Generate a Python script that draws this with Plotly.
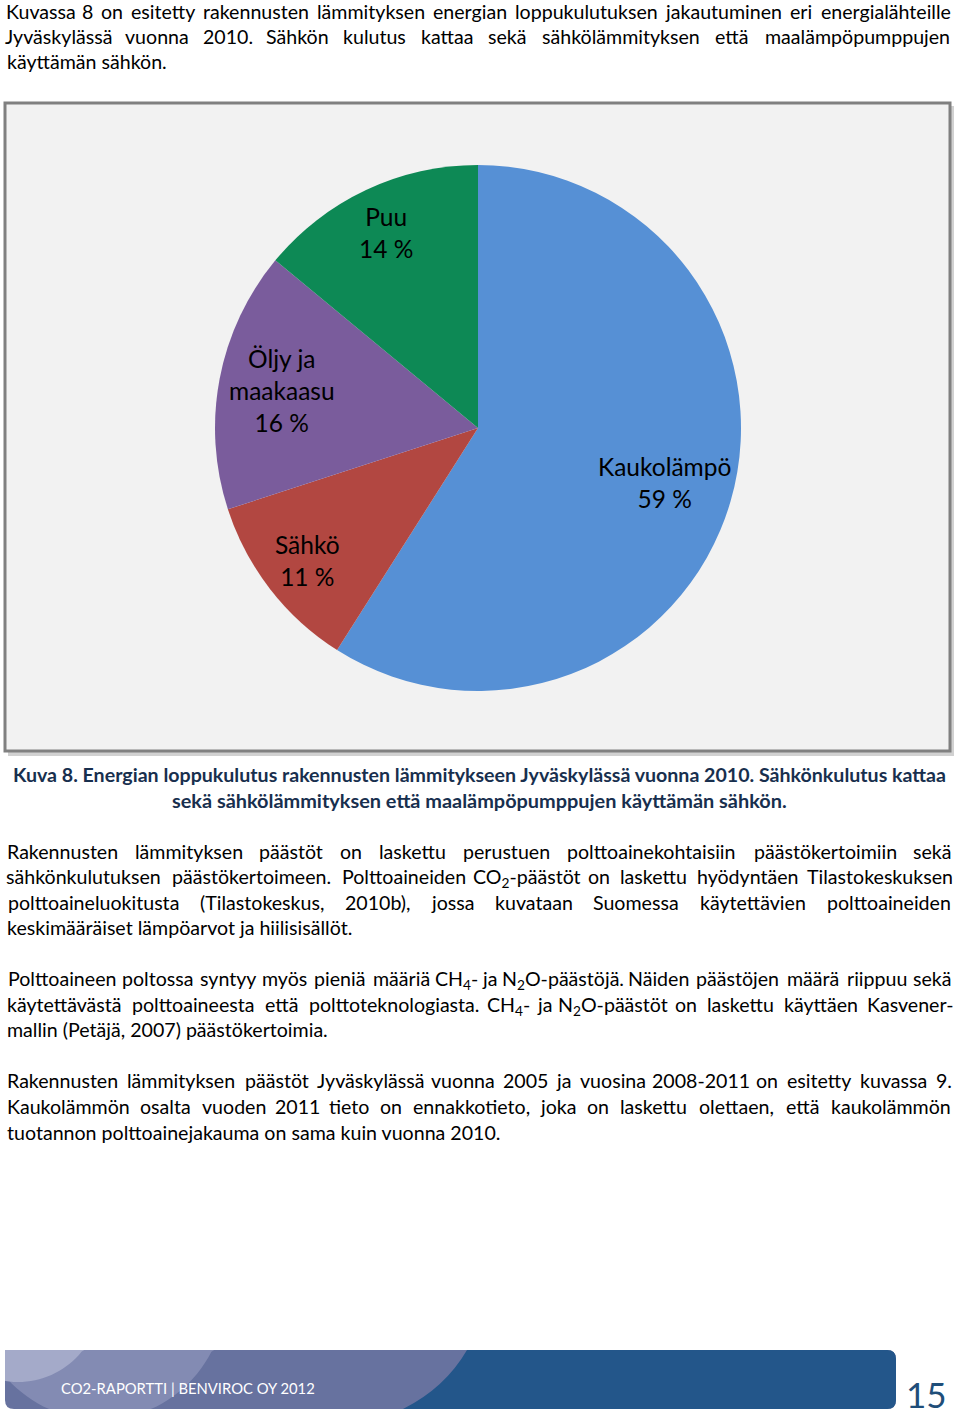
import plotly.graph_objects as go
import re
import math

# ---------------- data ----------------
labels = ["Kaukolämpö", "Sähkö", "Öljy ja<br>maakaasu", "Puu"]
values = [59, 11, 16, 14]
colors = ["#5690D5", "#B24741", "#7A5C9C", "#0D8955"]

para1 = [
    "Kuvassa 8 on esitetty rakennusten lämmityksen energian loppukulutuksen jakautuminen eri energialähteille",
    "Jyväskylässä vuonna 2010. Sähkön kulutus kattaa sekä sähkölämmityksen että maalämpöpumppujen",
    "käyttämän sähkön.",
]
caption = [
    "Kuva 8. Energian loppukulutus rakennusten lämmitykseen Jyväskylässä vuonna 2010. Sähkönkulutus kattaa",
    "sekä sähkölämmityksen että maalämpöpumppujen käyttämän sähkön.",
]
para2 = [
    "Rakennusten lämmityksen päästöt on laskettu perustuen polttoainekohtaisiin päästökertoimiin sekä",
    "sähkönkulutuksen päästökertoimeen. Polttoaineiden CO<sub>2</sub>-päästöt on laskettu hyödyntäen Tilastokeskuksen",
    "polttoaineluokitusta (Tilastokeskus, 2010b), jossa kuvataan Suomessa käytettävien polttoaineiden",
    "keskimääräiset lämpöarvot ja hiilisisällöt.",
]
para3 = [
    "Polttoaineen poltossa syntyy myös pieniä määriä CH<sub>4</sub>- ja N<sub>2</sub>O-päästöjä. Näiden päästöjen määrä riippuu sekä",
    "käytettävästä polttoaineesta että polttoteknologiasta. CH<sub>4</sub>- ja N<sub>2</sub>O-päästöt on laskettu käyttäen Kasvener-",
    "mallin (Petäjä, 2007) päästökertoimia.",
]
para4 = [
    "Rakennusten lämmityksen päästöt Jyväskylässä vuonna 2005 ja vuosina 2008-2011 on esitetty kuvassa 9.",
    "Kaukolämmön osalta vuoden 2011 tieto on ennakkotieto, joka on laskettu olettaen, että kaukolämmön",
    "tuotannon polttoainejakauma on sama kuin vuonna 2010.",
]
footer_text = "CO2-RAPORTTI | BENVIROC OY 2012"
page_number = "15"

# ---------------- layout helpers ----------------
W, H = 960, 1414
FONT = "Lato, 'Open Sans', sans-serif"
BODY = 19.6
BODY_PX = 20.9   # reference font size for width model

CW = {' ': 226, '!': 326, '%': 715, '(': 303, ')': 303, ',': 250, '-': 306, '.': 252,
      ':': 268, ';': 268, '|': 460,
      'A': 579, 'B': 544, 'C': 533, 'D': 615, 'E': 488, 'F': 459, 'G': 631, 'H': 623, 'I': 252,
      'J': 319, 'K': 520, 'L': 420, 'M': 855, 'N': 646, 'O': 662, 'P': 517, 'Q': 673, 'R': 543,
      'S': 459, 'T': 487, 'U': 642, 'V': 567, 'W': 890, 'X': 519, 'Y': 487, 'Z': 468,
      'a': 479, 'b': 525, 'c': 423, 'd': 525, 'e': 498, 'f': 305, 'g': 471, 'h': 525, 'i': 229,
      'j': 239, 'k': 455, 'l': 229, 'm': 799, 'n': 525, 'o': 527, 'p': 525, 'q': 525, 'r': 349,
      's': 391, 't': 335, 'u': 525, 'v': 452, 'w': 715, 'x': 433, 'y': 453, 'z': 395,
      'ä': 479, 'ö': 527, 'Ä': 579, 'Ö': 662}


def width(s, px=BODY_PX):
    total = 0.0
    for p in re.split(r"(<sub>.*?</sub>)", s):
        if p.startswith("<sub>"):
            total += sum(CW.get(c, 507) for c in p[5:-6]) * 0.65
        else:
            total += sum(CW.get(c, 507) for c in p)
    return total / 1000.0 * px


annotations = []


def add_text(text, x, y, xanchor="left", size=BODY, color="#000000", bold=False, yanchor="middle"):
    # positions given in page pixels (y downward) -> paper coordinates
    annotations.append(dict(
        x=x / W, y=1 - y / H, xref="paper", yref="paper",
        text=("<b>%s</b>" % text) if bold else text,
        showarrow=False, xanchor=xanchor, yanchor=yanchor,
        font=dict(family=FONT, size=size, color=color)))


TOP_OFF = 14.0   # line centre -> annotation box top


def justified(line, y, x0=7, x1=952):
    words = line.split(" ")
    ws = [width(w) for w in words]
    gap = (x1 - x0 - sum(ws)) / (len(words) - 1)
    x = x0
    for w, wd in zip(words, ws):
        add_text(w, x + wd / 2, y - TOP_OFF, xanchor="center", yanchor="top")
        x += wd + gap


def paragraph(lines, ys):
    for i, (ln, y) in enumerate(zip(lines, ys)):
        if i < len(lines) - 1:
            justified(ln, y)
        else:
            add_text(ln, 5, y - TOP_OFF, yanchor="top")


paragraph(para1, [12, 37, 62])
paragraph(para2, [852, 877, 903, 928])
paragraph(para3, [979, 1005, 1030])
paragraph(para4, [1081, 1107, 1133])

cap_color = "#182F4E"
add_text(caption[0], 479.5, 774, xanchor="center", size=19.6, color=cap_color, bold=True)
add_text(caption[1], 479, 800, xanchor="center", size=19.9, color=cap_color, bold=True)

# ---------------- shapes ----------------
shapes = []
shapes.append(dict(type="rect", xref="x", yref="y", x0=8, y0=106, x1=954, y1=756,
                   line=dict(width=0), fillcolor="rgba(0,0,0,0.18)", layer="below"))
shapes.append(dict(type="rect", xref="x", yref="y", x0=5, y0=103, x1=950, y1=751,
                   line=dict(width=3, color="#808080"), fillcolor="#F2F2F2", layer="below"))


def rounded_rect(x0, y0, x1, y1, r):
    return (f"M{x0+r},{y0} L{x1-r},{y0} Q{x1},{y0} {x1},{y0+r} L{x1},{y1-r} "
            f"Q{x1},{y1} {x1-r},{y1} L{x0+r},{y1} Q{x0},{y1} {x0},{y1-r} "
            f"L{x0},{y0+r} Q{x0},{y0} {x0+r},{y0} Z")


fy0, fy1 = 1350, 1409
shapes.append(dict(type="path", xref="x", yref="y", path=rounded_rect(5, fy0, 896, fy1, 9),
                   fillcolor="#67729F", line=dict(width=0), layer="below"))


def circle_clip_path(cx, cy, r, x0, y0, x1, y1, n=120):
    pts = []
    for i in range(n + 1):
        a = 2 * math.pi * i / n
        px = min(max(cx + r * math.cos(a), x0), x1)
        py = min(max(cy + r * math.sin(a), y0), y1)
        pts.append((px, py))
    return "M" + " L".join(f"{p[0]:.1f},{p[1]:.1f}" for p in pts) + " Z"


shapes.append(dict(type="path", xref="x", yref="y",
                   path=circle_clip_path(100, 1295, 125, 5, fy0, 400, fy1),
                   fillcolor="#838BB3", line=dict(width=0), layer="below"))
shapes.append(dict(type="path", xref="x", yref="y",
                   path=circle_clip_path(18, 1300, 82, 5, fy0, 400, fy1),
                   fillcolor="#A4AAC9", line=dict(width=0), layer="below"))
shapes.append(dict(type="path", xref="x", yref="y",
                   path=(f"M467,{fy0} L887,{fy0} Q896,{fy0} 896,{fy0+9} L896,{fy1-9} "
                         f"Q896,{fy1} 887,{fy1} L403,{fy1} Q445,1388 467,{fy0} Z"),
                   fillcolor="#23568A", line=dict(width=0), layer="below"))

add_text(footer_text, 59, 1388, size=14.8, color="#FFFFFF")
add_text(page_number, 926, 1394, xanchor="center", size=35, color="#1F4E79")

# ---------------- pie ----------------
cx, cy, R = 478, 428, 263
label_frac = [0.74, 0.82, 0.76, 0.82]   # radial placement of the labels (share of radius)

fig = go.Figure()
fig.add_trace(go.Pie(
    labels=labels, values=values, sort=False, direction="clockwise", rotation=0,
    marker=dict(colors=colors, line=dict(width=0)),
    textinfo="none", hoverinfo="skip", showlegend=False,
    domain=dict(x=[(cx - R) / W, (cx + R) / W], y=[(H - cy - R) / H, (H - cy + R) / H]),
))

total = sum(values)
cum = 0.0
for lab, val, fr in zip(labels, values, label_frac):
    mid = (cum + val / 2) / total * 2 * math.pi
    cum += val
    lx = cx + fr * R * math.sin(mid)
    ly = cy - fr * R * math.cos(mid)
    add_text(f"{lab}<br>{val} %", lx, ly, xanchor="center", size=24.5, color="#000000")

fig.update_layout(
    width=W, height=H, margin=dict(l=0, r=0, t=0, b=0),
    paper_bgcolor="#FFFFFF", plot_bgcolor="rgba(0,0,0,0)",
    xaxis=dict(range=[0, W], visible=False, fixedrange=True),
    yaxis=dict(range=[H, 0], visible=False, fixedrange=True),
    shapes=shapes, annotations=annotations, showlegend=False,
)
fig.write_html("out.html")
